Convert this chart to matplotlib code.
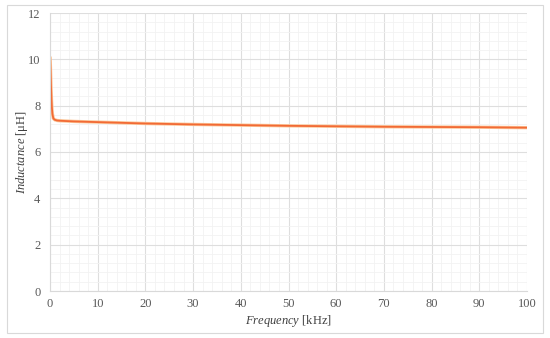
import matplotlib.pyplot as plt
from matplotlib.ticker import MultipleLocator
from matplotlib.patches import Rectangle

# data
freq_khz = [0.02, 0.1, 0.2, 0.3, 0.4, 0.5, 0.7, 1.0, 1.5, 2, 3, 5, 10, 20, 30, 40, 50, 60, 70, 80, 90, 100]
inductance_uh = [10.12, 9.6, 8.9, 8.3, 7.9, 7.65, 7.45, 7.39, 7.36, 7.35, 7.34, 7.32, 7.29, 7.23, 7.19, 7.16, 7.13, 7.11, 7.09, 7.08, 7.07, 7.05]

plt.rcParams['font.family'] = ['Liberation Serif', 'DejaVu Serif']
plt.rcParams['mathtext.fontset'] = 'custom'
plt.rcParams['mathtext.rm'] = 'Liberation Serif'
plt.rcParams['mathtext.it'] = 'Liberation Serif:italic'

fig = plt.figure(figsize=(5.5, 3.38), dpi=100)
ax = fig.add_axes([50 / 550, 1 - 291 / 338, 477 / 550, 278 / 338])

# light frame round the whole chart
fig.patches.append(Rectangle((7 / 550, 5 / 338), 536 / 550, 328 / 338, transform=fig.transFigure,
                             fill=False, edgecolor='#d9d9d9', linewidth=0.8))

ax.plot(freq_khz, inductance_uh, color='#fbc79a', linewidth=2.4, solid_capstyle='butt')
ax.plot(freq_khz, inductance_uh, color='#f26a35', linewidth=1.3, solid_capstyle='butt')

ax.set_xlim(0, 100)
ax.set_ylim(0, 12)
ax.xaxis.set_major_locator(MultipleLocator(10))
ax.xaxis.set_minor_locator(MultipleLocator(2))
ax.yaxis.set_major_locator(MultipleLocator(2))
ax.yaxis.set_minor_locator(MultipleLocator(0.4))
ax.grid(which='major', color='#dedede', linewidth=0.8)
ax.grid(which='minor', color='#f2f2f2', linewidth=0.6)
ax.set_axisbelow(True)

for s in ['top', 'right']:
    ax.spines[s].set_visible(False)
ax.spines['left'].set_color('#d9d9d9')
ax.spines['bottom'].set_color('#d9d9d9')
ax.tick_params(which='both', length=0, labelsize=9, colors='#595959')
ax.tick_params(axis='x', pad=5)
ax.tick_params(axis='y', pad=7)

ax.set_xlabel(r'$\mathit{Frequency}$ [kHz]', fontsize=9, color='#404040', labelpad=2)
ax.set_ylabel(r'$\mathit{Inductance}$ [μH]', fontsize=9, color='#404040')
ax.yaxis.set_label_coords(-20 / 477, 0.5)

plt.savefig('out.png', dpi=100)
